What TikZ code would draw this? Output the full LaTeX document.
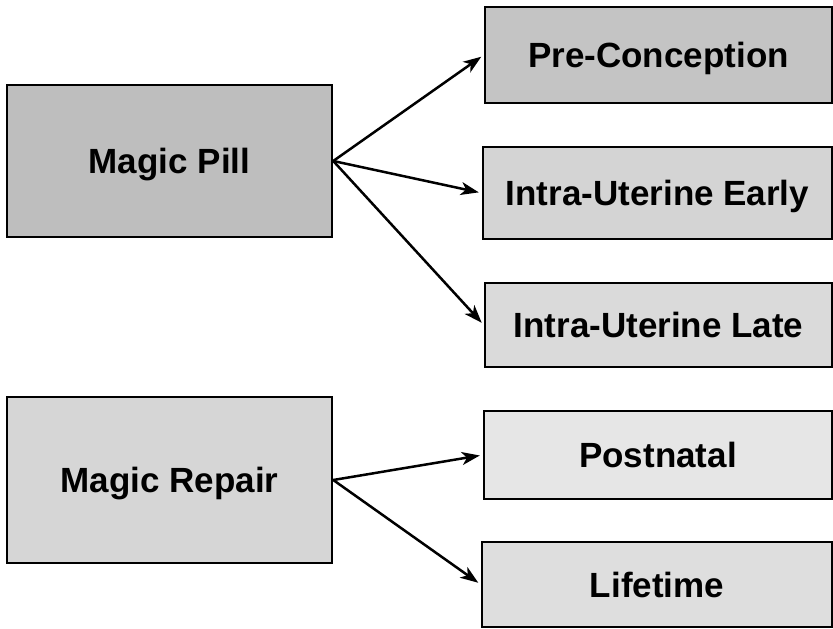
\documentclass[tikz,border=0pt]{standalone}
\usepackage{fontspec}
\setmainfont{Liberation Sans}
\usepackage{tikz}
\usetikzlibrary{arrows.meta,positioning}

\begin{document}
\begin{tikzpicture}[x=1pt,y=-1pt,
  box/.style={draw, line width=2.5pt, inner sep=0pt, text height=25pt, text depth=0pt, font=\fontsize{35}{42}\selectfont\bfseries},
  remedy/.style={box, minimum width=325pt},
  stage/.style={box, minimum width=347pt},
  arr/.style={-{Stealth[length=18pt,width=13pt,inset=5pt]}, line width=2.5pt, shorten >=3pt}]
\useasboundingbox (0,0) rectangle (833,629);
\node[remedy, fill={rgb,255:red,190;green,190;blue,190}, minimum height=152pt] (pill) at (169.5,161){Magic Pill};
\node[remedy, fill={rgb,255:red,214;green,214;blue,214}, minimum height=166pt] (repair) at (169.5,480){Magic Repair};
\node[stage, fill={rgb,255:red,196;green,196;blue,196}, minimum height=96pt] (pre) at (658.5,55){Pre-Conception};
\node[stage, fill={rgb,255:red,212;green,212;blue,212}, minimum height=92pt, minimum width=349pt] (early) at (657.5,193){Intra-Uterine Early};
\node[stage, fill={rgb,255:red,218;green,218;blue,218}, minimum height=84pt] (late) at (658.5,325){Intra-Uterine Late};
\node[stage, fill={rgb,255:red,230;green,230;blue,230}, minimum height=88pt, minimum width=348pt] (post) at (658,455){Postnatal};
\node[stage, fill={rgb,255:red,222;green,222;blue,222}, minimum height=85pt, minimum width=350pt] (life) at (657,584.5){Lifetime};
\draw[arr] (pill.east) -- (pre.west);
\draw[arr] (pill.east) -- (early.west);
\draw[arr] (pill.east) -- (late.west);
\draw[arr] (repair.east) -- (post.west);
\draw[arr] (repair.east) -- (life.west);
\end{tikzpicture}
\end{document}
